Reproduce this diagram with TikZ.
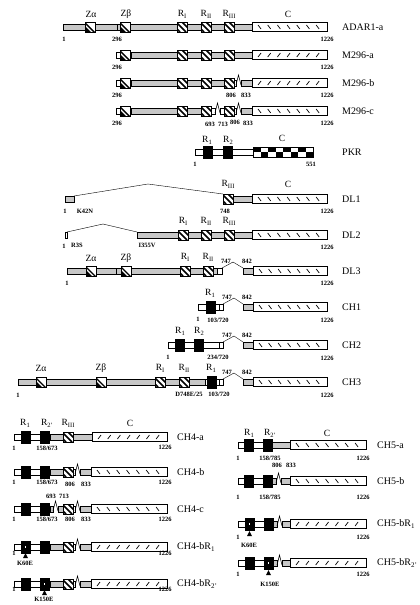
\documentclass[tikz,border=0pt]{standalone}
\usepackage{fontspec}
\setmainfont{Liberation Serif}
\tikzset{
  num/.style={font=\fontsize{6.5}{7}\selectfont\bfseries, inner sep=0pt},
  dom/.style={font=\fontsize{9.5}{10}\selectfont, inner sep=0pt},
  rowname/.style={font=\fontsize{10}{11}\selectfont, anchor=west, inner sep=0pt},
}
\newcommand{\Rsub}[1]{R\raisebox{-0.45ex}{\fontsize{6.5}{6.5}\selectfont #1}}
\newcommand{\sgG}[3]{\draw[fill=black!22,line width=0.6pt] (#1,#3-3) rectangle (#2,#3+3);}
\newcommand{\sgW}[3]{\draw[fill=white,line width=0.6pt] (#1,#3-3) rectangle (#2,#3+3);}
\newcommand{\dH}[2]{\draw[fill=white] (#1,#2-5) rectangle ++(10,10);
  \begin{scope}\clip (#1,#2-5) rectangle ++(10,10);
  \foreach \o in {-7,-1,5}{\draw[line width=1.5pt] (#1+\o,#2-5) -- ++(10,10);}
  \end{scope}\draw[line width=0.7pt] (#1,#2-5) rectangle ++(10,10);}
\newcommand{\dZ}[2]{\draw[fill=white] (#1,#2-5) rectangle ++(10,10);
  \begin{scope}\clip (#1,#2-5) rectangle ++(10,10);
  \fill (#1,#2-5) -- ++(10,10) -- ++(-10,0) -- cycle;
  \draw[white,line width=1.2pt] (#1-1,#2-3) -- ++(10,10);
  \end{scope}\draw[line width=0.7pt] (#1,#2-5) rectangle ++(10,10);}
\newcommand{\dB}[2]{\draw[fill=black] (#1,#2-6) rectangle ++(9,12);}
\newcommand{\dDot}[2]{\fill[white] (#1+3.7,#2-0.8) rectangle ++(1.6,1.6);}
\newcommand{\dTri}[2]{\fill (#1,#2) -- ++(-2.5,5) -- ++(5,0) -- cycle;}
\newcommand{\dbump}[3]{\draw[line width=0.6pt] (#1,#3+2) -- ({(#1+#2)/2},#3-8) -- (#2,#3+2);}
\newcommand{\dCb}[3]{\draw[fill=white,line width=0.7pt] (#1,#3-4.5) rectangle (#2,#3+4.5);
  \foreach \i in {0,...,6}{\pgfmathsetmacro\tx{#1+6+\i*(#2-#1-12)/6.5}\draw[line width=0.7pt] (\tx,#3-2)--(\tx+3,#3+2);}}
\newcommand{\dCs}[3]{\draw[fill=white,line width=0.7pt] (#1,#3-4.5) rectangle (#2,#3+4.5);
  \foreach \i in {0,...,6}{\pgfmathsetmacro\tx{#1+6+\i*(#2-#1-12)/6.5}\draw[line width=0.7pt] (\tx,#3+2)--(\tx+3,#3-2);}}
\begin{document}
\begin{tikzpicture}[x=1pt,y=-1pt]
\useasboundingbox[fill=white] (0,0) rectangle (420,605);

% ADAR1-a
\sgG{63}{252}{27}\draw (117,24)--(117,30);
\dZ{85}{27}\dZ{120}{27}\dH{177}{27}\dH{201}{27}\dH{224}{27}\dCb{252}{327}{27}
\node[dom] at (91,14) {Zα};\node[dom] at (126,14) {Zβ};
\node[dom] at (182,14) {\Rsub{I}};\node[dom] at (206,14) {\Rsub{II}};\node[dom] at (229,14) {\Rsub{III}};\node[dom] at (288,14) {C};
\node[num] at (64,39) {1};\node[num] at (117,39) {296};\node[num] at (327,39) {1226};
\node[rowname] (adar) at (342,27) {ADAR1-a};

% M296-a
\sgW{116}{120}{55}\sgG{131}{252}{55}
\dZ{120}{55}\dH{177}{55}\dH{201}{55}\dH{224}{55}\dCs{252}{327}{55}
\node[num] at (117,67) {296};\node[num] at (327,67) {1226};
\node[rowname] (ma) at (342,55) {M296-a};

% M296-b
\sgW{116}{120}{83}\sgG{131}{224}{83}\sgW{234}{236}{83}\dbump{236}{241}{83}\sgG{241}{252}{83}
\dZ{120}{83}\dH{177}{83}\dH{201}{83}\dH{224}{83}\dCs{252}{327}{83}
\node[num] at (117,95) {296};\node[num] at (231,95) {806};\node[num] at (246,95) {833};\node[num] at (327,95) {1226};
\node[rowname] (mb) at (342,83) {M296-b};

% M296-c
\sgW{116}{120}{111}\sgG{131}{201}{111}\sgW{211}{215}{111}\dbump{215}{220}{111}\sgW{220}{224}{111}
\sgW{234}{236}{111}\dbump{236}{241}{111}\sgG{241}{252}{111}
\dZ{120}{111}\dH{177}{111}\dH{201}{111}\dH{224}{111}\dCb{252}{327}{111}
\node[num] at (117,123) {296};\node[num] at (210,124) {693};\node[num] at (223,124) {713};
\node[num] at (235,122) {806};\node[num] at (248,123) {833};\node[num] at (327,123) {1226};
\node[rowname] (mc) at (342,111) {M296-c};

% PKR
\sgW{195}{253}{152}\dB{203}{152}\dB{223}{152}
\draw[fill=white,line width=0.7pt] (253,147) rectangle (313,157);
\foreach \i in {0,...,7}{\pgfmathsetmacro\cx{253+\i*7.5}
  \ifodd\i \fill (\cx,152) rectangle ++(7.5,5); \else \fill (\cx,147) rectangle ++(7.5,5); \fi}
\draw[line width=0.7pt] (253,147) rectangle (313,157);
\node[dom] at (207,140) {\Rsub{1}};\node[dom] at (228,140) {\Rsub{2}};\node[dom] at (282,138) {C};
\node[num] at (195,164) {1};\node[num] at (311,164) {551};
\node[rowname] (pkr) at (342,152) {PKR};

% DL1
\sgG{65}{74}{199}\draw (74,196)--(148,184)--(223,194);\sgG{233}{252}{199}
\dH{223}{199}\dCb{252}{327}{199}
\node[dom] at (228,184) {\Rsub{III}};\node[dom] at (288,184) {C};
\node[num] at (65,211) {1};\node[num] at (85,211) {K42N};\node[num] at (225,211) {748};\node[num] at (327,211) {1226};
\node[rowname] (dl1) at (342,199) {DL1};

% DL2
\sgW{65}{67}{235}\draw (67,232)--(103,224)--(137,232);\sgG{137}{252}{235}
\dH{178}{235}\dH{201}{235}\dH{224}{235}\dCb{252}{327}{235}
\node[dom] at (183,221) {\Rsub{I}};\node[dom] at (206,221) {\Rsub{II}};\node[dom] at (229,221) {\Rsub{III}};
\node[num] at (64,246) {1};\node[num] at (77,245) {R3S};\node[num] at (147,245) {I355V};\node[num] at (327,247) {1226};
\node[rowname] (dl2) at (342,235) {DL2};

% DL3
\sgG{67}{217}{271}\draw (116,268)--(116,274);\sgW{217}{222}{271}
\draw (222,268)--(233,262)--(243,268);\sgG{243}{253}{271}
\dZ{86}{271}\dZ{121}{271}\dH{180}{271}\dH{203}{271}\dCb{253}{327}{271}
\node[dom] at (91,258) {Zα};\node[dom] at (126,258) {Zβ};
\node[dom] at (185,257) {\Rsub{I}};\node[dom] at (208,257) {\Rsub{II}};
\node[num] at (226,261) {747};\node[num] at (247,261) {842};
\node[num] at (67,283) {1};\node[num] at (327,283) {1226};
\node[rowname] (dl3) at (342,271) {DL3};

% CH1
\sgW{198}{223}{307}\draw (219,304)--(219,310);\draw (223,304)--(234,298)--(243,304);\sgG{243}{253}{307}
\dB{206}{307}\dCb{253}{327}{307}
\node[dom] at (210,293) {\Rsub{1}};\node[num] at (227,297) {747};\node[num] at (247,297) {842};
\node[num] at (198,319) {1};\node[num] at (218,320) {103/720};\node[num] at (327,320) {1226};
\node[rowname] (ch1) at (342,307) {CH1};

% CH2
\sgW{168}{223}{345}\draw (219,342)--(219,348);\draw (223,342)--(234,336)--(243,342);\sgG{243}{253}{345}
\dB{175}{345}\dB{194}{345}\dCb{253}{327}{345}
\node[dom] at (180,331) {\Rsub{1}};\node[dom] at (199,331) {\Rsub{2}};
\node[num] at (227,335) {747};\node[num] at (247,335) {842};
\node[num] at (168,357) {1};\node[num] at (218,357) {234/720};\node[num] at (327,358) {1226};
\node[rowname] (ch2) at (342,345) {CH2};

% CH3
\sgG{18}{205}{382}\sgW{205}{223}{382}\draw (219,379)--(219,385);\draw (223,379)--(234,373)--(243,379);\sgG{243}{253}{382}
\dZ{36}{382}\dZ{96}{382}\dH{155}{382}\dH{179}{382}\dB{207}{382}\dCb{253}{327}{382}
\node[dom] at (41,368) {Zα};\node[dom] at (101,368) {Zβ};
\node[dom] at (160,368) {\Rsub{I}};\node[dom] at (184,368) {\Rsub{II}};\node[dom] at (211,368) {\Rsub{1}};
\node[num] at (227,372) {747};\node[num] at (247,372) {842};
\node[num] at (18,395) {1};\node[num] at (189,394) {D748E/25};\node[num] at (219,394) {103/720};\node[num] at (327,395) {1226};
\node[rowname] (ch3) at (342,382) {CH3};

% CH4-a
\sgW{14}{50}{437}\sgG{50}{92}{437}\dB{21}{437}\dB{40}{437}\dH{63}{437}\dCs{92}{167}{437}
\node[dom] at (25,423) {\Rsub{1}};\node[dom] at (47,423) {\Rsub{2'}};\node[dom] at (68,423) {\Rsub{III}};\node[dom] at (130,423) {C};
\node[num] at (14,448) {1};\node[num] at (47,448) {158/673};\node[num] at (165,447) {1226};
\node[rowname] (c4a) at (177,437) {CH4-a};

% CH4-b
\sgW{14}{50}{472}\sgG{50}{73}{472}\sgW{73}{75}{472}\dbump{75}{80}{472}\sgG{80}{91}{472}
\dB{21}{472}\dB{40}{472}\dH{63}{472}\dCb{91}{167}{472}
\node[num] at (70,484) {806};\node[num] at (86,484) {833};
\node[num] at (14,482) {1};\node[num] at (47,482) {158/673};\node[num] at (165,482) {1226};
\node[rowname] (c4b) at (177,472) {CH4-b};

% CH4-c
\sgW{14}{50}{509}\sgG{50}{53}{509}\dbump{53}{58}{509}\sgG{58}{63}{509}\sgW{73}{75}{509}\dbump{75}{80}{509}\sgG{80}{91}{509}
\dB{21}{509}\dB{40}{509}\dH{63}{509}\dCb{91}{167}{509}
\node[num] at (51,496) {693};\node[num] at (64,496) {713};\node[num] at (70,519) {806};\node[num] at (86,519) {833};
\node[num] at (14,519) {1};\node[num] at (47,519) {158/673};\node[num] at (165,519) {1226};
\node[rowname] (c4c) at (177,509) {CH4-c};

% CH4-bR1
\sgW{14}{50}{547}\sgG{50}{73}{547}\sgW{73}{75}{547}\dbump{75}{80}{547}\sgG{80}{91}{547}
\dB{21}{547}\dDot{21}{547}\dB{40}{547}\dH{63}{547}\dCs{91}{167}{547}
\dTri{25.5}{553}
\node[num] at (25,563) {K60E};
\node[num] at (14,553) {1};\node[num] at (165,553) {1226};
\node[rowname] (c4r1) at (177,547) {CH4-bR\textsubscript{1}};

% CH4-bR2'
\sgW{14}{50}{584}\sgG{50}{73}{584}\sgW{73}{75}{584}\dbump{75}{80}{584}\sgG{80}{91}{584}
\dB{21}{584}\dB{40}{584}\dDot{40}{584}\dH{63}{584}\dCs{91}{167}{584}
\dTri{44.5}{590}
\node[num] at (44,599) {K150E};
\node[num] at (14,589) {1};\node[num] at (165,589) {1226};
\node[rowname] (c4r2) at (177,584) {CH4-bR\textsubscript{2'}};

% CH5-a
\sgW{238}{272}{445}\sgG{272}{290}{445}\dB{244}{445}\dB{263}{445}\dCb{290}{366}{445}
\node[dom] at (249,433) {\Rsub{1}};\node[dom] at (270,433) {\Rsub{2'}};\node[dom] at (327,433) {C};
\node[num] at (238,458) {1};\node[num] at (270,458) {158/785};\node[num] at (363,458) {1226};
\node[rowname] (c5a) at (377,445) {CH5-a};

% CH5-b
\sgW{238}{272}{481}\sgG{272}{276}{481}\dbump{276}{281}{481}\sgG{281}{290}{481}
\dB{244}{481}\dB{263}{481}\dCb{290}{366}{481}
\node[num] at (277,465) {806};\node[num] at (291,465) {833};
\node[num] at (238,497) {1};\node[num] at (270,497) {158/785};\node[num] at (363,497) {1226};
\node[rowname] (c5b) at (377,481) {CH5-b};

% CH5-bR1
\sgW{238}{273}{524}\sgG{273}{277}{524}\dbump{277}{282}{524}\sgG{282}{290}{524}
\dB{245}{524}\dDot{245}{524}\dB{264}{524}\dCs{290}{366}{524}
\dTri{249.5}{531}
\node[num] at (249,545) {K60E};
\node[num] at (238,537) {1};\node[num] at (363,537) {1226};
\node[rowname] (c5r1) at (377,524) {CH5-bR\textsubscript{1}};

% CH5-bR2'
\sgW{238}{273}{563}\sgG{273}{277}{563}\dbump{277}{282}{563}\sgG{282}{290}{563}
\dB{245}{563}\dB{264}{563}\dDot{264}{563}\dCs{290}{366}{563}
\dTri{268.5}{570}
\node[num] at (270,584) {K150E};
\node[num] at (238,574) {1};\node[num] at (363,574) {1226};
\node[rowname] (c5r2) at (377,563) {CH5-bR\textsubscript{2'}};
\end{tikzpicture}
\end{document}
